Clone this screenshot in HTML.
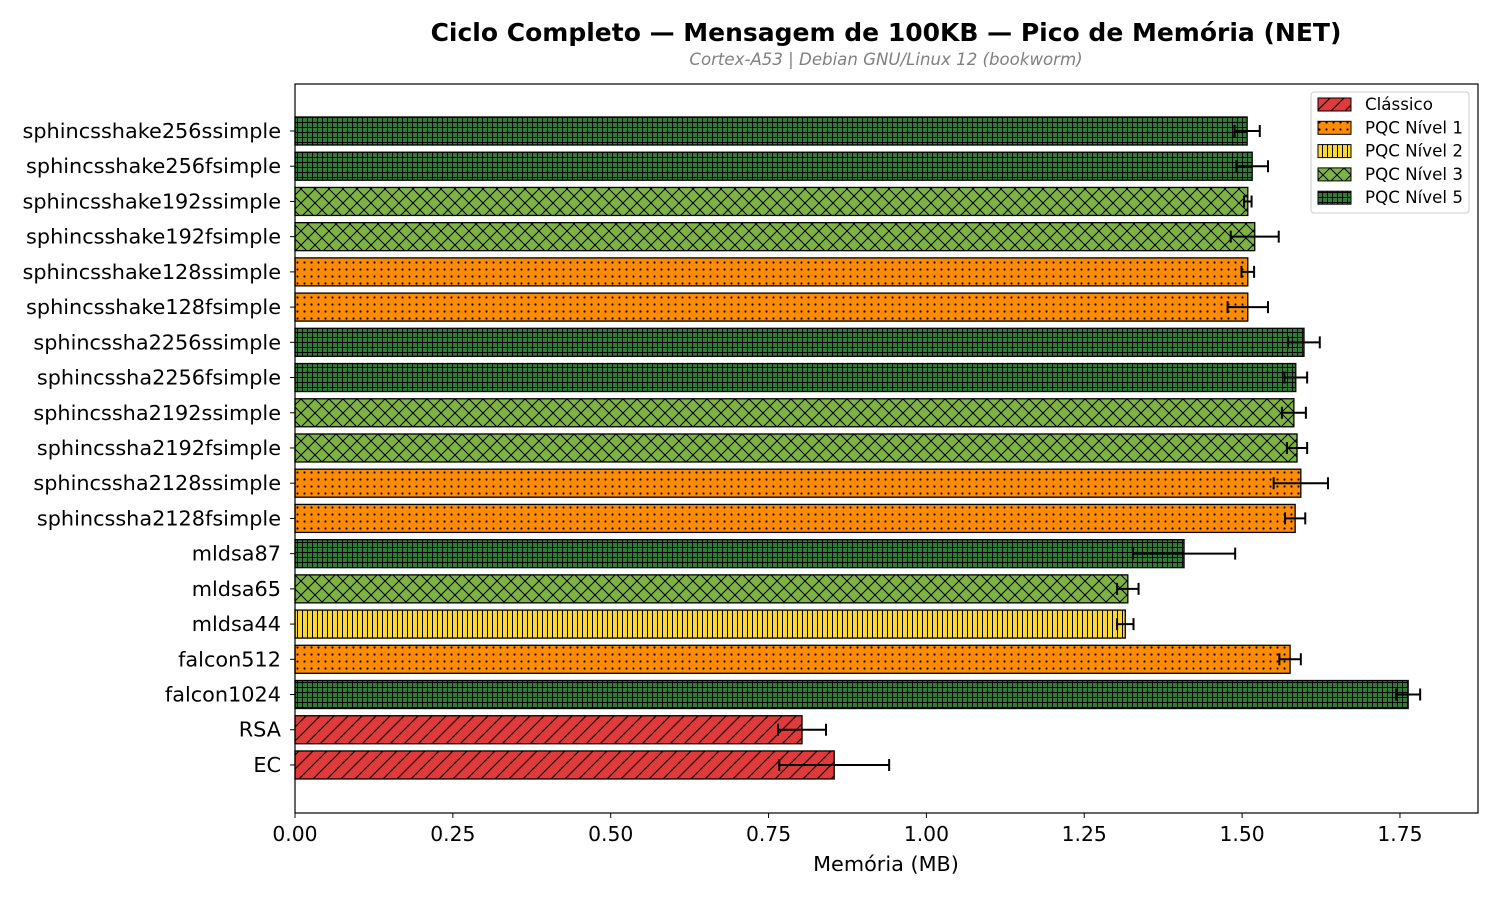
<!DOCTYPE html>
<html><head><meta charset="utf-8"><style>
html,body{margin:0;padding:0;background:#fff;}
svg{display:block;font-family:"DejaVu Sans","Liberation Sans",sans-serif;}
</style></head><body>
<svg id="chart" width="1500" height="900" viewBox="0 0 1500 900">
<defs>
<pattern id="p0" patternUnits="userSpaceOnUse" width="14" height="14"><rect width="14" height="14" fill="#e03a3a"/><path d="M-2,16 L16,-2 M-2,2 L2,-2 M12,16 L16,12" stroke="#000" stroke-width="1.2"/></pattern>
<pattern id="p1" patternUnits="userSpaceOnUse" width="7" height="7"><rect width="7" height="7" fill="#ff8c00"/><circle cx="3.5" cy="3.5" r="1.1" fill="#000"/></pattern>
<pattern id="p2" patternUnits="userSpaceOnUse" width="5" height="10"><rect width="5" height="10" fill="#fdd835"/><path d="M2.5,0 V10" stroke="#000" stroke-width="1"/></pattern>
<pattern id="p3" patternUnits="userSpaceOnUse" width="14" height="14"><rect width="14" height="14" fill="#7cb342"/><path d="M0,0 L14,14 M14,0 L0,14" stroke="#000" stroke-width="1"/></pattern>
<pattern id="p5" patternUnits="userSpaceOnUse" width="5" height="5"><rect width="5" height="5" fill="#2e7d32"/><path d="M2.5,0 V5 M0,2.5 H5" stroke="#000" stroke-width="0.9"/></pattern>
</defs>
<text x="886" y="41" text-anchor="middle" font-size="25" font-weight="bold">Ciclo Completo — Mensagem de 100KB — Pico de Memória (NET)</text>
<text x="886" y="65" text-anchor="middle" font-size="16.6" font-style="italic" fill="#808080">Cortex-A53 | Debian GNU/Linux 12 (bookworm)</text>
<g id="plot"></g>
<rect x="295" y="84" width="1183" height="729" fill="none" stroke="#000" stroke-width="1.2"/>
<text x="886" y="871" text-anchor="middle" font-size="20.8">Memória (MB)</text>
<g id="legend">
<rect x="1311" y="92" width="158" height="121" fill="#fff" stroke="#ccc" rx="3"/>
</g>
</svg>
<script>
const categories=["sphincsshake256ssimple","sphincsshake256fsimple","sphincsshake192ssimple","sphincsshake192fsimple","sphincsshake128ssimple","sphincsshake128fsimple","sphincssha2256ssimple","sphincssha2256fsimple","sphincssha2192ssimple","sphincssha2192fsimple","sphincssha2128ssimple","sphincssha2128fsimple","mldsa87","mldsa65","mldsa44","falcon512","falcon1024","RSA","EC"];
const values=[1.508,1.516,1.509,1.520,1.509,1.509,1.598,1.585,1.582,1.587,1.593,1.584,1.408,1.319,1.315,1.576,1.763,0.803,0.854];
const errors=[0.020,0.025,0.006,0.038,0.010,0.032,0.025,0.018,0.019,0.016,0.043,0.016,0.081,0.017,0.013,0.017,0.019,0.038,0.087];
const levels=[5,5,3,3,1,1,5,5,3,3,1,1,5,3,2,1,5,0,0];
const ticks=[0,0.25,0.5,0.75,1.0,1.25,1.5,1.75];
const tickLabels=["0.00","0.25","0.50","0.75","1.00","1.25","1.50","1.75"];
const legendLabels=["Clássico","PQC Nível 1","PQC Nível 2","PQC Nível 3","PQC Nível 5"];
const legendLevels=[0,1,2,3,5];
const NS="http://www.w3.org/2000/svg";
const X0=295,XMAX=1.8736,W=1183,Y0=131,STEP=35.22,BH=28;
const xs=v=>X0+v/XMAX*W;
const ys=i=>Y0+i*STEP;
function mk(tag,at,parent){const e=document.createElementNS(NS,tag);for(const k in at)e.setAttribute(k,at[k]);parent.appendChild(e);return e;}
const g=document.getElementById('plot');
ticks.forEach((t,i)=>{
  const l=mk('line',{x1:xs(t),x2:xs(t),y1:813,y2:818,stroke:'#000'},g);
  
  
  const tx=mk('text',{x:xs(t),y:841,'text-anchor':'middle','font-size':20.3},g);
  tx.textContent=tickLabels[i];
  
  
});
categories.forEach((c,i)=>{
  const y=ys(i);
  const r=mk('rect',{x:X0,y:y-BH/2,width:xs(values[i])-X0,height:BH,fill:'url(#p'+levels[i]+')',stroke:'#000','stroke-width':1.3},g);
  
  
  const e=mk('path',{d:`M${xs(values[i]-errors[i])},${y}H${xs(values[i]+errors[i])}M${xs(values[i]-errors[i])},${y-6}V${y+6}M${xs(values[i]+errors[i])},${y-6}V${y+6}`,stroke:'#000','stroke-width':2,fill:'none'},g);
  
  
  mk('line',{x1:290,x2:295,y1:y,y2:y,stroke:'#000'},g);
  const t=mk('text',{x:281,y:y+7,'text-anchor':'end','font-size':20.8},g);
  t.textContent=c;
  
  
});
const lg=document.getElementById('legend');
legendLabels.forEach((l,i)=>{
  const y=98+i*23.3;
  const r=mk('rect',{x:1318,y:y,width:33,height:13,fill:'url(#p'+legendLevels[i]+')',stroke:'#000'},lg);
  
  
  const t=mk('text',{x:1365,y:y+12,'font-size':16.7},lg);
  t.textContent=l;
  
  
});
</script>
</body></html>
